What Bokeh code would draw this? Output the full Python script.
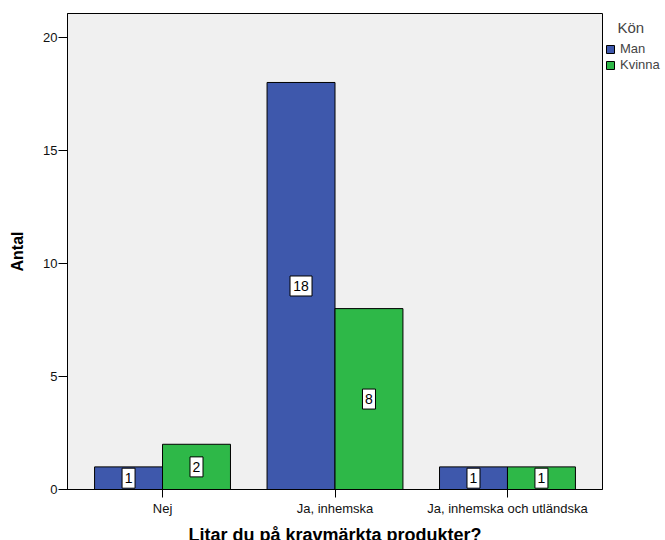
from bokeh.plotting import figure
from bokeh.models import (ColumnDataSource, FixedTicker, Legend, LegendItem,
                          Range1d)
from bokeh.core.properties import value
from bokeh.embed import file_html
from bokeh.resources import INLINE

categories = ["Nej", "Ja, inhemska", "Ja, inhemska och utländska"]
man = [1, 18, 1]
kvinna = [2, 8, 1]
y_ticks = [0, 5, 10, 15, 20]

BLUE = "#3E58AC"
GREEN = "#2EB848"
FONT = "Liberation Sans"
bar_w = 0.394
FW, FH = 535, 476


def make_src(vals, offset):
    labs = [str(v) for v in vals]
    return ColumnDataSource(dict(
        x=[i + offset for i in range(len(vals))], top=vals,
        mid=[v / 2 for v in vals], lab=labs,
        bw=[4 + 9 * len(s) for s in labs]))


src_m = make_src(man, -bar_w / 2)
src_k = make_src(kvinna, bar_w / 2)
idx = list(range(len(categories)))

p = figure(frame_width=FW, frame_height=FH, output_backend="svg", toolbar_location=None,
           x_range=Range1d(-0.551, 2.551), y_range=Range1d(0, 21.05),
           min_border_left=67, min_border_top=13, min_border_bottom=51,
           min_border_right=0)

p.background_fill_color = "#F0F0F0"
p.border_fill_color = "white"
p.outline_line_color = "black"
p.outline_line_width = 1
p.xgrid.visible = False
p.ygrid.visible = False

r_m = p.vbar(x="x", top="top", bottom=0, width=bar_w, source=src_m,
             fill_color=BLUE, line_color="black", line_width=1)
r_k = p.vbar(x="x", top="top", bottom=0, width=bar_w, source=src_k,
             fill_color=GREEN, line_color="black", line_width=1)

for src in (src_m, src_k):
    p.rect(x="x", y="mid", width="bw", height=20, width_units="screen",
           height_units="screen", source=src, fill_color="white",
           line_color="black", line_width=1)
    p.text(x="x", y="mid", text="lab", source=src, text_align="center",
           text_baseline="middle", text_font=value(FONT),
           text_font_size="14px", text_color="black")

# axes
p.xaxis.ticker = FixedTicker(ticks=idx)
p.xaxis.major_label_overrides = {i: c for i, c in zip(idx, categories)}
p.yaxis.ticker = FixedTicker(ticks=y_ticks)
for ax in (p.xaxis[0], p.yaxis[0]):
    ax.axis_line_color = "black"
    ax.major_tick_line_color = "black"
    ax.major_tick_out = 9
    ax.major_tick_in = 0
    ax.minor_tick_line_color = None
    ax.major_label_text_font = FONT
    ax.major_label_text_font_size = "13px"
    ax.major_label_text_color = "#111111"
    ax.axis_label_text_font = FONT
    ax.axis_label_text_font_style = "bold"
    ax.axis_label_text_color = "black"
p.xaxis.major_tick_out = 8
p.xaxis.axis_label = "Litar du på kravmärkta produkter?"
p.yaxis.axis_label = "Antal"
p.xaxis.axis_label_text_font_size = "18px"
p.yaxis.axis_label_text_font_size = "16px"
p.xaxis.major_label_standoff = 3
p.yaxis.major_label_standoff = 1
p.xaxis.axis_label_standoff = 6
p.yaxis.axis_label_standoff = 14

legend = Legend(items=[LegendItem(label="Man", renderers=[r_m]),
                       LegendItem(label="Kvinna", renderers=[r_k])],
                title="\u00a0\u00a0\u00a0Kön", location=(3, 417))
legend.title_text_font = FONT
legend.title_text_font_size = "15px"
legend.title_text_font_style = "normal"
legend.title_standoff = 5
legend.label_text_font = FONT
legend.label_text_font_size = "13px"
legend.glyph_width = 10
legend.glyph_height = 10
legend.label_standoff = 5
legend.label_height = 13
legend.spacing = 1
legend.padding = 0
legend.margin = 3
legend.border_line_color = None
legend.background_fill_alpha = 0
p.add_layout(legend, "right")

open("out.html", "w").write(file_html(p, INLINE))
